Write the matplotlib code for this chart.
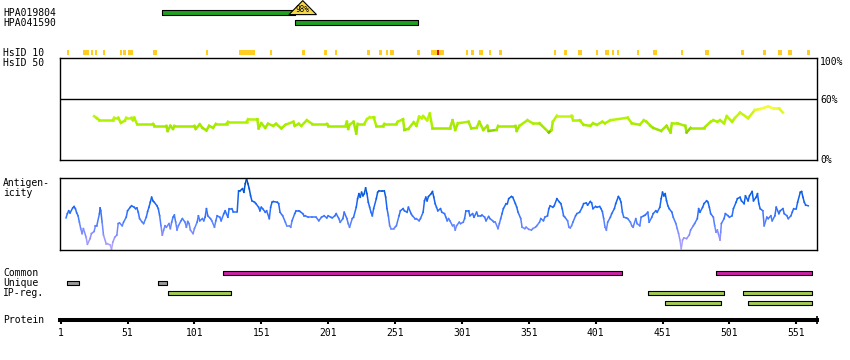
import matplotlib
matplotlib.use("Agg")
import matplotlib.pyplot as plt
from matplotlib.collections import LineCollection
from matplotlib.colors import LinearSegmentedColormap, Normalize
from matplotlib.patches import Polygon

plt.rcParams["font.family"] = ["DejaVu Sans Mono"]

W, H = 850, 360
SEQ_LEN = 566

# ---- data ----
hpa_names = ["HPA019804", "HPA041590"]
hpa_spans = [(77, 176), (176, 268)]
hpa_peak = 182
hpa_peak_label = "98%"

hsid10_spans = [(5.5, 7.5), (18, 22.5), (23.5, 25), (27, 28.5), (32.5, 34.5), (45, 46.5),
                (47.5, 49.5), (51, 55), (70, 73), (109.5, 111), (134, 146), (157.5, 159),
                (181.5, 183.5), (198, 200), (206, 207.5), (230, 232), (239, 241),
                (244, 245.5), (247, 250), (267.5, 269.5), (278, 287.5), (304, 305.5),
                (308, 310), (313.5, 316.5), (321.5, 323), (328.5, 331), (369.5, 371.5),
                (377.5, 379.5), (388, 391), (401, 403), (408, 411), (413, 415), (417, 418.5),
                (432, 433.5), (444, 447), (464.5, 466), (483, 486), (510, 512), (526, 528.5),
                (537, 540.5), (545, 548), (559, 561.5)]
hsid10_red = [(282.5, 284)]

# identity (%) along the sequence, HsID 50 panel
ident_profile = [
    (26, 43), (28, 41), (30, 39), (40, 39), (41, 41.5), (44, 41.5), (46, 36.5), (49, 38.5),
    (50, 41.5), (54, 41.5), (55, 39), (56, 41.5), (58, 35.5), (70, 35.5), (71, 33.5),
    (80, 33.5), (81, 28.5), (83, 33.5), (85, 30.5), (86, 33.5), (101, 33.5), (102, 30.5),
    (105, 35), (107, 31.5), (110, 29), (112, 33.5), (115, 31.5), (117, 35.5), (125, 35.5),
    (126, 37.5), (140, 37.5), (141, 40), (148, 40), (149, 31), (151, 36), (154, 31.5),
    (156, 35.5), (160, 33.5), (162, 35.5), (166, 31), (169, 34.5), (175, 37.5), (176, 33.5),
    (179, 35.5), (181, 33.5), (185, 39), (189, 35.5), (200, 35.5), (201, 33.5), (214, 33.5),
    (215, 37.5), (216, 30.5), (217, 34.5), (220, 37.5), (222, 26), (223, 35.5), (228, 35.5),
    (230, 40), (232, 42), (235, 42), (237, 33.5), (242, 33.5), (243, 35.5), (252, 35.5),
    (253, 37.5), (257, 40), (258, 29.5), (261, 30.5), (265, 37), (267, 33.5), (269, 42.5),
    (271, 41), (272, 43), (275, 39), (277, 45.5), (279, 31), (292, 31), (294, 39),
    (296, 29.5), (298, 36), (306, 37.5), (308, 31), (312, 31.5), (314, 37.5), (317, 29.5),
    (320, 33.5), (321, 28.5), (327, 29.5), (328, 33.5), (341, 33.5), (342, 28.5), (344, 33.5),
    (350, 39), (354, 36), (359, 36), (366, 27), (368, 29.5), (369, 37.5), (372, 43.5),
    (383, 43.5), (384, 39), (389, 39), (392, 34.5), (397, 33.5), (399, 36), (402, 34.5),
    (406, 37.5), (408, 36), (412, 39), (425, 41.5), (428, 36), (434, 34.5), (437, 39),
    (439, 37.5), (442, 33.5), (444, 31.5), (450, 28.5), (454, 33.5), (457, 27), (458, 36),
    (462, 36), (468, 33.5), (469, 27), (472, 31.5), (482, 31.5), (487, 37.5), (489, 39),
    (492, 37.5), (494, 39), (497, 36), (499, 43), (503, 37.5), (505, 41), (509, 46.5),
    (515, 41), (520, 49), (524, 50), (530, 52.5), (534, 50.5), (538, 50.5), (541, 46.5)]

# antigenicity (relative, 0-100 of panel height)
antig_profile = [
    (5, 44), (6, 50), (7, 54), (8, 51), (10, 58), (11, 60), (12, 57), (13, 51), (14, 47),
    (15, 38), (16, 29), (17, 22), (18, 29), (20, 17), (21, 7), (23, 15), (24, 22), (26, 25),
    (27, 33), (28, 33), (30, 50), (30.5, 58), (31, 54), (32, 38), (33, 20), (35, 8), (36, 8),
    (38, 6), (39, 0), (40, 10), (41.5, 17), (43, 20), (44, 36), (45, 37), (47, 33), (48, 38),
    (50, 45), (51, 54), (53, 59), (54, 61), (56, 59), (57, 57), (58, 58), (59, 52), (60, 43),
    (62, 38), (63, 36), (65, 45), (66, 53), (67, 59), (68, 66), (69, 73), (70, 68), (71, 66),
    (73, 61), (74, 57), (75, 47), (76, 33), (77, 20), (78, 27), (79, 33), (80, 31), (82, 36),
    (83, 29), (84, 38), (85, 45), (86, 48), (87, 38), (88, 27), (89, 33), (91, 40), (92, 43),
    (94, 38), (95, 31), (96, 39), (97, 36), (98, 27), (100, 22), (101, 29), (103, 38),
    (104, 47), (105, 40), (107, 43), (108, 40), (109, 45), (110, 57), (111, 47), (113, 43),
    (114, 40), (116, 31), (117, 40), (118, 47), (120, 45), (121, 40), (123, 50), (124, 54),
    (126, 45), (127, 57), (129, 57), (130, 53), (133, 53), (134, 82), (135, 82), (137, 85),
    (138, 80), (139, 92), (140, 99), (141, 92), (142, 85), (143, 75), (144, 68), (146, 66),
    (147, 64), (149, 59), (150, 54), (151, 59), (152, 57), (154, 52), (155, 54), (157, 43),
    (158, 59), (159, 66), (160, 67), (163, 66), (164, 64), (165, 52), (167, 47), (169, 38),
    (170, 33), (172, 33), (173, 31), (174, 40), (176, 50), (177, 54), (179, 54), (180, 53),
    (182, 50), (183, 47), (184, 47), (186, 45), (189, 45), (192, 45), (194, 40), (196, 45),
    (198, 47), (200, 44), (201, 47), (203, 45), (204, 44), (206, 47), (207, 50), (209, 43),
    (210, 38), (212, 43), (213, 52), (215, 43), (216, 36), (217, 31), (219, 43), (220, 45),
    (222, 59), (223, 71), (224, 78), (225, 73), (226, 80), (227, 75), (228, 78), (229, 86),
    (230, 78), (231, 66), (232, 59), (233, 52), (234, 47), (235, 57), (237, 71), (238, 80),
    (239, 82), (241, 82), (243, 82), (244, 73), (245, 57), (246, 47), (247, 33), (248, 29),
    (250, 29), (251, 31), (252, 33), (254, 47), (255, 54), (257, 57), (258, 54), (260, 52),
    (261, 59), (263, 50), (264, 47), (266, 43), (267, 43), (269, 40), (270, 43), (272, 52),
    (273, 68), (274, 73), (275, 68), (276, 74), (278, 78), (279, 81), (280, 73), (281, 64),
    (282, 59), (283, 54), (285, 57), (286, 52), (288, 50), (289, 45), (290, 40), (291, 43),
    (292, 40), (294, 33), (295, 34), (296, 27), (297, 33), (299, 38), (300, 36), (302, 38),
    (303, 43), (304, 54), (306, 54), (307, 47), (309, 50), (310, 45), (312, 52), (313, 47),
    (315, 47), (316, 48), (318, 45), (319, 40), (321, 46), (322, 43), (324, 40), (325, 38),
    (326, 38), (328, 29), (329, 36), (330, 43), (331, 50), (332, 57), (334, 64), (335, 64),
    (336, 71), (338, 74), (339, 73), (341, 64), (342, 59), (343, 52), (345, 43), (346, 31),
    (348, 29), (349, 31), (351, 28), (353, 27), (354, 29), (356, 31), (357, 33), (359, 38),
    (360, 43), (362, 40), (363, 45), (365, 47), (366, 57), (367, 61), (369, 59), (370, 61),
    (372, 71), (374, 66), (375, 64), (376, 57), (377, 47), (378, 45), (380, 40), (381, 31),
    (382, 30), (383, 33), (384, 38), (386, 47), (387, 50), (389, 52), (391, 59), (392, 64),
    (394, 65), (395, 62), (397, 67), (398, 65), (399, 57), (401, 60), (402, 59), (404, 60),
    (405, 57), (406, 53), (407, 43), (408, 31), (409, 27), (410, 38), (412, 45), (413, 50),
    (415, 57), (416, 64), (418, 74), (419, 71), (420, 66), (421, 52), (422, 45), (424, 44),
    (425, 43), (427, 38), (428, 33), (429, 31), (431, 43), (432, 36), (434, 33), (435, 45),
    (437, 47), (438, 48), (440, 52), (441, 38), (443, 45), (444, 50), (446, 54), (447, 52),
    (449, 59), (450, 71), (451, 80), (452, 75), (453, 78), (454, 68), (455, 61), (456, 57),
    (458, 52), (459, 45), (461, 36), (462, 29), (463, 22), (464, 13), (465, 1), (466, 13),
    (467, 16), (469, 15), (471, 20), (472, 27), (474, 33), (475, 36), (477, 43), (478, 57),
    (479, 52), (481, 59), (482, 64), (484, 68), (485, 66), (486, 59), (487, 50), (489, 45),
    (490, 33), (491, 24), (492, 27), (493, 20), (494, 13), (494.5, 24), (495, 36), (497, 43),
    (498, 50), (500, 47), (501, 45), (503, 47), (504, 57), (506, 66), (507, 71), (509, 73),
    (510, 68), (512, 64), (513, 75), (515, 68), (516, 75), (518, 81), (519, 68), (521, 73),
    (522, 78), (523, 64), (524, 57), (526, 54), (527, 33), (529, 45), (530, 43), (532, 47),
    (533, 40), (535, 47), (536, 59), (538, 50), (539, 54), (541, 57), (542, 50), (544, 47),
    (545, 43), (547, 47), (548, 52), (549, 57), (551, 57), (552, 66), (554, 80), (555, 81),
    (556, 73), (557, 66), (558, 62), (560, 61)]

common_spans = [(122, 421), (491, 563)]
unique_spans = [(6, 15), (73.5, 80.5)]
ipreg_spans_a = [(81, 128), (440, 497), (511, 563)]
ipreg_spans_b = [(453, 495), (515, 563)]

tick_res = [1, 51, 101, 151, 201, 251, 301, 351, 401, 451, 501, 551]

# ---- layout ----
fig = plt.figure(figsize=(W / 100, H / 100), dpi=100)
fig.patch.set_facecolor("white")


def px_axes(x0, y0, x1, y1):
    ax = fig.add_axes([x0 / W, 1 - y1 / H, (x1 - x0) / W, (y1 - y0) / H])
    ax.set_xlim(0.5, SEQ_LEN + 0.5)
    return ax


def label(x, y, s, **kw):
    fig.text(x / W, 1 - y / H, s, fontsize=7, va="center", **kw)


def spans_to_bars(spans):
    return [(s, e - s) for s, e in spans]


def colored_line(ax, profile, cmap, lw):
    xs = [p[0] for p in profile]
    ys = [p[1] for p in profile]
    segs = [[(xs[i], ys[i]), (xs[i + 1], ys[i + 1])] for i in range(len(xs) - 1)]
    vals = [(ys[i] + ys[i + 1]) / 2 for i in range(len(xs) - 1)]
    lc = LineCollection(segs, cmap=cmap, norm=Normalize(0, 100), linewidths=lw,
                        capstyle="projecting")
    lc.set_array(vals)
    ax.add_collection(lc)


# top tracks: antibodies + HsID 10
ax_top = px_axes(60, 0, 817, 57)
ax_top.set_ylim(57, 0)
ax_top.axis("off")
hpa_rows = [12.4, 22.3]
for row, (s, e) in zip(hpa_rows, hpa_spans):
    ax_top.broken_barh([(s, e - s)], (row - 2.2, 4.4), facecolors="#1fa01f",
                       edgecolors="black", linewidth=0.8)
tri = Polygon([(hpa_peak, 0.6), (hpa_peak - 10.3, 14.6), (hpa_peak + 10.3, 14.6)],
              closed=True, facecolor="#f5d84a", edgecolor="black", linewidth=0.8)
ax_top.add_patch(tri)
ax_top.text(hpa_peak, 10, hpa_peak_label, fontsize=5.5, ha="center", va="center")
ax_top.broken_barh(spans_to_bars(hsid10_spans), (50, 4.8), facecolors="#ffcc22")
ax_top.broken_barh(spans_to_bars(hsid10_red), (50, 4.8), facecolors="#dd1100")

# HsID 50 identity panel
ident_cmap = LinearSegmentedColormap.from_list(
    "ident", [(0, "#3c9600"), (0.27, "#5cb000"), (0.30, "#9fe600"), (0.40, "#b2f400"),
              (0.47, "#d6f41a"), (0.53, "#ffff38"), (1, "#ffff38")])
ax_id = px_axes(60, 58, 817, 160)
ax_id.set_ylim(0, 100)
ax_id.axhline(60, color="black", lw=1.0)
colored_line(ax_id, ident_profile, ident_cmap, 1.8)

# antigenicity panel
antig_cmap = LinearSegmentedColormap.from_list(
    "antig", [(0, "#b8a8ff"), (0.2, "#8c8cff"), (0.35, "#5c84ff"), (0.5, "#2e70ff"),
              (0.7, "#1062f0"), (0.9, "#0052c8"), (1, "#0048b0")])
ax_ag = px_axes(60, 178, 817, 250)
ax_ag.set_ylim(-1, 100)
colored_line(ax_ag, antig_profile, antig_cmap, 1.1)

for ax in (ax_id, ax_ag):
    ax.set_xticks([])
    ax.set_yticks([])
    for sp in ax.spines.values():
        sp.set_linewidth(1.0)

# bottom tracks + protein ruler
ax_bot = px_axes(60, 262, 817, 320)
ax_bot.set_ylim(320, 262)
for sp in ("top", "left", "right"):
    ax_bot.spines[sp].set_visible(False)
ax_bot.spines["bottom"].set_linewidth(2.9)
ax_bot.set_yticks([])
ax_bot.set_xticks(tick_res)
ax_bot.set_xticklabels([str(t) for t in tick_res], fontsize=7)
ax_bot.set_xticks([SEQ_LEN + 0.3], minor=True)
ax_bot.tick_params(axis="x", which="major", direction="out", length=3.2, width=1.5, pad=2.5)
ax_bot.tick_params(axis="x", which="minor", direction="inout", length=6, width=1.2)
track_style = dict(edgecolors="black", linewidth=0.8)
ax_bot.broken_barh(spans_to_bars(common_spans), (270.6, 4.2), facecolors="#cc22a6", **track_style)
ax_bot.broken_barh(spans_to_bars(unique_spans), (280.6, 4.2), facecolors="#999999", **track_style)
ax_bot.broken_barh(spans_to_bars(ipreg_spans_a), (290.6, 4.2), facecolors="#a3cc55", **track_style)
ax_bot.broken_barh(spans_to_bars(ipreg_spans_b), (300.6, 4.2), facecolors="#a3cc55", **track_style)

# left/right text labels
for name, y in zip(hpa_names, hpa_rows):
    label(3, y + 0.3, name)
label(3, 52.7, "HsID 10")
label(3, 62.7, "HsID 50")
label(3, 183.3, "Antigen-")
label(3, 193.3, "icity")
label(3, 272.7, "Common")
label(3, 282.7, "Unique")
label(3, 292.7, "IP-reg.")
label(3, 320, "Protein")
label(820, 61.7, "100%")
label(820, 100, "60%")
label(820, 160.3, "0%")

fig.savefig("out.png", dpi=100, facecolor="white")
